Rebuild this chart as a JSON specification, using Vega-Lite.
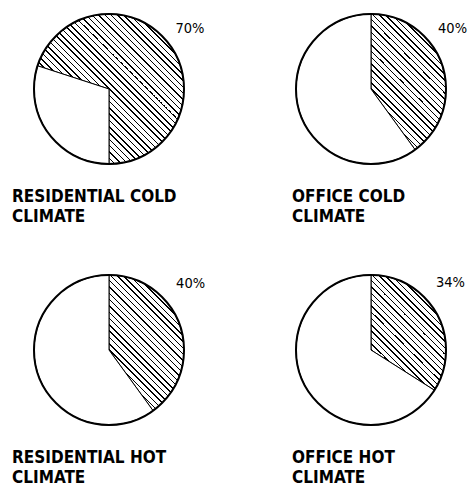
{
  "$schema": "https://vega.github.io/schema/vega-lite/v6.json",
  "background": "white",
  "padding": {"left": 12, "top": 10, "right": 0, "bottom": 0},
  "config": {
    "view": {"stroke": null},
    "arc": {
      "fill": {
        "gradient": "linear", "x1": 0, "y1": 1, "x2": 1, "y2": 0,
        "stops": [
          {"offset": 0, "color": "#fff"},
          {"offset": 0.016, "color": "#fff"}, {"offset": 0.016, "color": "#000"}, {"offset": 0.021, "color": "#000"}, {"offset": 0.021, "color": "#fff"},
          {"offset": 0.037, "color": "#fff"}, {"offset": 0.037, "color": "#000"}, {"offset": 0.042, "color": "#000"}, {"offset": 0.042, "color": "#fff"},
          {"offset": 0.058, "color": "#fff"}, {"offset": 0.058, "color": "#000"}, {"offset": 0.063, "color": "#000"}, {"offset": 0.063, "color": "#fff"},
          {"offset": 0.079, "color": "#fff"}, {"offset": 0.079, "color": "#000"}, {"offset": 0.084, "color": "#000"}, {"offset": 0.084, "color": "#fff"},
          {"offset": 0.100, "color": "#fff"}, {"offset": 0.100, "color": "#000"}, {"offset": 0.105, "color": "#000"}, {"offset": 0.105, "color": "#fff"},
          {"offset": 0.121, "color": "#fff"}, {"offset": 0.121, "color": "#000"}, {"offset": 0.126, "color": "#000"}, {"offset": 0.126, "color": "#fff"},
          {"offset": 0.142, "color": "#fff"}, {"offset": 0.142, "color": "#000"}, {"offset": 0.147, "color": "#000"}, {"offset": 0.147, "color": "#fff"},
          {"offset": 0.163, "color": "#fff"}, {"offset": 0.163, "color": "#000"}, {"offset": 0.168, "color": "#000"}, {"offset": 0.168, "color": "#fff"},
          {"offset": 0.184, "color": "#fff"}, {"offset": 0.184, "color": "#000"}, {"offset": 0.189, "color": "#000"}, {"offset": 0.189, "color": "#fff"},
          {"offset": 0.205, "color": "#fff"}, {"offset": 0.205, "color": "#000"}, {"offset": 0.210, "color": "#000"}, {"offset": 0.210, "color": "#fff"},
          {"offset": 0.226, "color": "#fff"}, {"offset": 0.226, "color": "#000"}, {"offset": 0.231, "color": "#000"}, {"offset": 0.231, "color": "#fff"},
          {"offset": 0.247, "color": "#fff"}, {"offset": 0.247, "color": "#000"}, {"offset": 0.252, "color": "#000"}, {"offset": 0.252, "color": "#fff"},
          {"offset": 0.268, "color": "#fff"}, {"offset": 0.268, "color": "#000"}, {"offset": 0.273, "color": "#000"}, {"offset": 0.273, "color": "#fff"},
          {"offset": 0.289, "color": "#fff"}, {"offset": 0.289, "color": "#000"}, {"offset": 0.294, "color": "#000"}, {"offset": 0.294, "color": "#fff"},
          {"offset": 0.310, "color": "#fff"}, {"offset": 0.310, "color": "#000"}, {"offset": 0.315, "color": "#000"}, {"offset": 0.315, "color": "#fff"},
          {"offset": 0.331, "color": "#fff"}, {"offset": 0.331, "color": "#000"}, {"offset": 0.336, "color": "#000"}, {"offset": 0.336, "color": "#fff"},
          {"offset": 0.352, "color": "#fff"}, {"offset": 0.352, "color": "#000"}, {"offset": 0.357, "color": "#000"}, {"offset": 0.357, "color": "#fff"},
          {"offset": 0.373, "color": "#fff"}, {"offset": 0.373, "color": "#000"}, {"offset": 0.378, "color": "#000"}, {"offset": 0.378, "color": "#fff"},
          {"offset": 0.394, "color": "#fff"}, {"offset": 0.394, "color": "#000"}, {"offset": 0.399, "color": "#000"}, {"offset": 0.399, "color": "#fff"},
          {"offset": 0.415, "color": "#fff"}, {"offset": 0.415, "color": "#000"}, {"offset": 0.420, "color": "#000"}, {"offset": 0.420, "color": "#fff"},
          {"offset": 0.436, "color": "#fff"}, {"offset": 0.436, "color": "#000"}, {"offset": 0.441, "color": "#000"}, {"offset": 0.441, "color": "#fff"},
          {"offset": 0.457, "color": "#fff"}, {"offset": 0.457, "color": "#000"}, {"offset": 0.462, "color": "#000"}, {"offset": 0.462, "color": "#fff"},
          {"offset": 0.478, "color": "#fff"}, {"offset": 0.478, "color": "#000"}, {"offset": 0.483, "color": "#000"}, {"offset": 0.483, "color": "#fff"},
          {"offset": 0.499, "color": "#fff"}, {"offset": 0.499, "color": "#000"}, {"offset": 0.504, "color": "#000"}, {"offset": 0.504, "color": "#fff"},
          {"offset": 0.520, "color": "#fff"}, {"offset": 0.520, "color": "#000"}, {"offset": 0.525, "color": "#000"}, {"offset": 0.525, "color": "#fff"},
          {"offset": 0.541, "color": "#fff"}, {"offset": 0.541, "color": "#000"}, {"offset": 0.546, "color": "#000"}, {"offset": 0.546, "color": "#fff"},
          {"offset": 0.562, "color": "#fff"}, {"offset": 0.562, "color": "#000"}, {"offset": 0.567, "color": "#000"}, {"offset": 0.567, "color": "#fff"},
          {"offset": 0.583, "color": "#fff"}, {"offset": 0.583, "color": "#000"}, {"offset": 0.588, "color": "#000"}, {"offset": 0.588, "color": "#fff"},
          {"offset": 0.604, "color": "#fff"}, {"offset": 0.604, "color": "#000"}, {"offset": 0.609, "color": "#000"}, {"offset": 0.609, "color": "#fff"},
          {"offset": 0.625, "color": "#fff"}, {"offset": 0.625, "color": "#000"}, {"offset": 0.630, "color": "#000"}, {"offset": 0.630, "color": "#fff"},
          {"offset": 0.646, "color": "#fff"}, {"offset": 0.646, "color": "#000"}, {"offset": 0.651, "color": "#000"}, {"offset": 0.651, "color": "#fff"},
          {"offset": 0.667, "color": "#fff"}, {"offset": 0.667, "color": "#000"}, {"offset": 0.672, "color": "#000"}, {"offset": 0.672, "color": "#fff"},
          {"offset": 0.688, "color": "#fff"}, {"offset": 0.688, "color": "#000"}, {"offset": 0.693, "color": "#000"}, {"offset": 0.693, "color": "#fff"},
          {"offset": 0.709, "color": "#fff"}, {"offset": 0.709, "color": "#000"}, {"offset": 0.714, "color": "#000"}, {"offset": 0.714, "color": "#fff"},
          {"offset": 0.730, "color": "#fff"}, {"offset": 0.730, "color": "#000"}, {"offset": 0.735, "color": "#000"}, {"offset": 0.735, "color": "#fff"},
          {"offset": 0.751, "color": "#fff"}, {"offset": 0.751, "color": "#000"}, {"offset": 0.756, "color": "#000"}, {"offset": 0.756, "color": "#fff"},
          {"offset": 0.772, "color": "#fff"}, {"offset": 0.772, "color": "#000"}, {"offset": 0.777, "color": "#000"}, {"offset": 0.777, "color": "#fff"},
          {"offset": 0.793, "color": "#fff"}, {"offset": 0.793, "color": "#000"}, {"offset": 0.798, "color": "#000"}, {"offset": 0.798, "color": "#fff"},
          {"offset": 0.814, "color": "#fff"}, {"offset": 0.814, "color": "#000"}, {"offset": 0.819, "color": "#000"}, {"offset": 0.819, "color": "#fff"},
          {"offset": 0.835, "color": "#fff"}, {"offset": 0.835, "color": "#000"}, {"offset": 0.840, "color": "#000"}, {"offset": 0.840, "color": "#fff"},
          {"offset": 0.856, "color": "#fff"}, {"offset": 0.856, "color": "#000"}, {"offset": 0.861, "color": "#000"}, {"offset": 0.861, "color": "#fff"},
          {"offset": 0.877, "color": "#fff"}, {"offset": 0.877, "color": "#000"}, {"offset": 0.882, "color": "#000"}, {"offset": 0.882, "color": "#fff"},
          {"offset": 0.898, "color": "#fff"}, {"offset": 0.898, "color": "#000"}, {"offset": 0.903, "color": "#000"}, {"offset": 0.903, "color": "#fff"},
          {"offset": 0.919, "color": "#fff"}, {"offset": 0.919, "color": "#000"}, {"offset": 0.924, "color": "#000"}, {"offset": 0.924, "color": "#fff"},
          {"offset": 0.940, "color": "#fff"}, {"offset": 0.940, "color": "#000"}, {"offset": 0.945, "color": "#000"}, {"offset": 0.945, "color": "#fff"},
          {"offset": 0.961, "color": "#fff"}, {"offset": 0.961, "color": "#000"}, {"offset": 0.966, "color": "#000"}, {"offset": 0.966, "color": "#fff"},
          {"offset": 0.982, "color": "#fff"}, {"offset": 0.982, "color": "#000"}, {"offset": 0.987, "color": "#000"}, {"offset": 0.987, "color": "#fff"},
          {"offset": 1, "color": "#fff"}
        ]
      }
    },
    "title": {"font": "DejaVu Sans Condensed", "fontWeight": "bold", "fontSize": 17, "lineHeight": 20, "color": "black", "orient": "bottom", "anchor": "start", "offset": 21},
    "text": {"font": "DejaVu Sans Condensed", "fontSize": 14.5, "color": "black"}
  },
  "datasets": {
    "pies": [
      {"panel": "Residential cold", "kind": "hatched", "value": 70, "label": "70%"},
      {"panel": "Residential cold", "kind": "rest", "value": 30, "label": ""},
      {"panel": "Office cold", "kind": "hatched", "value": 40, "label": "40%"},
      {"panel": "Office cold", "kind": "rest", "value": 60, "label": ""},
      {"panel": "Residential hot", "kind": "hatched", "value": 40, "label": "40%"},
      {"panel": "Residential hot", "kind": "rest", "value": 60, "label": ""},
      {"panel": "Office hot", "kind": "hatched", "value": 34, "label": "34%"},
      {"panel": "Office hot", "kind": "rest", "value": 66, "label": ""}
    ]
  },
  "spacing": 46,
  "vconcat": [
    {
      "spacing": 86,
      "hconcat": [
        {
          "width": 194, "height": 150,
          "data": {"name": "pies"},
          "transform": [{"filter": "datum.panel === 'Residential cold'"}],
          "title": {"text": ["RESIDENTIAL COLD", "CLIMATE"]},
          "layer": [
            {"mark": {"type": "arc", "stroke": null}, "encoding": {"theta": {"aggregate": "sum", "field": "value", "type": "quantitative", "scale": {"range": [3.14159, 9.42478]}}}},
            {"mark": {"type": "arc", "stroke": "black", "strokeWidth": 1}, "encoding": {"theta": {"field": "value", "type": "quantitative", "stack": true}, "order": {"field": "kind", "type": "ordinal", "sort": "descending"}, "fill": {"condition": {"test": "datum.kind === 'rest'", "value": "white"}, "value": "transparent"}}},
            {"mark": {"type": "arc", "fill": "transparent", "stroke": "black", "strokeWidth": 2}, "encoding": {"theta": {"aggregate": "sum", "field": "value", "type": "quantitative"}}},
            {"transform": [{"filter": "datum.kind === 'hatched'"}], "mark": {"type": "text", "theta": 0.93, "radius": 101}, "encoding": {"text": {"field": "label", "type": "nominal"}}}
          ]
        },
        {
          "width": 150, "height": 150,
          "data": {"name": "pies"},
          "transform": [{"filter": "datum.panel === 'Office cold'"}],
          "title": {"text": ["OFFICE COLD", "CLIMATE"]},
          "layer": [
            {"mark": {"type": "arc", "stroke": null}, "encoding": {"theta": {"aggregate": "sum", "field": "value", "type": "quantitative"}}},
            {"mark": {"type": "arc", "stroke": "black", "strokeWidth": 1}, "encoding": {"theta": {"field": "value", "type": "quantitative", "stack": true}, "order": {"field": "kind", "type": "ordinal", "sort": "ascending"}, "fill": {"condition": {"test": "datum.kind === 'rest'", "value": "white"}, "value": "transparent"}}},
            {"mark": {"type": "arc", "fill": "transparent", "stroke": "black", "strokeWidth": 2}, "encoding": {"theta": {"aggregate": "sum", "field": "value", "type": "quantitative"}}},
            {"transform": [{"filter": "datum.kind === 'hatched'"}], "mark": {"type": "text", "theta": 0.94, "radius": 101}, "encoding": {"text": {"field": "label", "type": "nominal"}}}
          ]
        }
      ]
    },
    {
      "spacing": 86,
      "hconcat": [
        {
          "width": 194, "height": 150,
          "data": {"name": "pies"},
          "transform": [{"filter": "datum.panel === 'Residential hot'"}],
          "title": {"text": ["RESIDENTIAL HOT", "CLIMATE"]},
          "layer": [
            {"mark": {"type": "arc", "stroke": null}, "encoding": {"theta": {"aggregate": "sum", "field": "value", "type": "quantitative"}}},
            {"mark": {"type": "arc", "stroke": "black", "strokeWidth": 1}, "encoding": {"theta": {"field": "value", "type": "quantitative", "stack": true}, "order": {"field": "kind", "type": "ordinal", "sort": "ascending"}, "fill": {"condition": {"test": "datum.kind === 'rest'", "value": "white"}, "value": "transparent"}}},
            {"mark": {"type": "arc", "fill": "transparent", "stroke": "black", "strokeWidth": 2}, "encoding": {"theta": {"aggregate": "sum", "field": "value", "type": "quantitative"}}},
            {"transform": [{"filter": "datum.kind === 'hatched'"}], "mark": {"type": "text", "theta": 0.89, "radius": 105}, "encoding": {"text": {"field": "label", "type": "nominal"}}}
          ]
        },
        {
          "width": 150, "height": 150,
          "data": {"name": "pies"},
          "transform": [{"filter": "datum.panel === 'Office hot'"}],
          "title": {"text": ["OFFICE HOT", "CLIMATE"]},
          "layer": [
            {"mark": {"type": "arc", "stroke": null}, "encoding": {"theta": {"aggregate": "sum", "field": "value", "type": "quantitative"}}},
            {"mark": {"type": "arc", "stroke": "black", "strokeWidth": 1}, "encoding": {"theta": {"field": "value", "type": "quantitative", "stack": true}, "order": {"field": "kind", "type": "ordinal", "sort": "ascending"}, "fill": {"condition": {"test": "datum.kind === 'rest'", "value": "white"}, "value": "transparent"}}},
            {"mark": {"type": "arc", "fill": "transparent", "stroke": "black", "strokeWidth": 2}, "encoding": {"theta": {"aggregate": "sum", "field": "value", "type": "quantitative"}}},
            {"transform": [{"filter": "datum.kind === 'hatched'"}], "mark": {"type": "text", "theta": 0.87, "radius": 104}, "encoding": {"text": {"field": "label", "type": "nominal"}}}
          ]
        }
      ]
    }
  ]
}
